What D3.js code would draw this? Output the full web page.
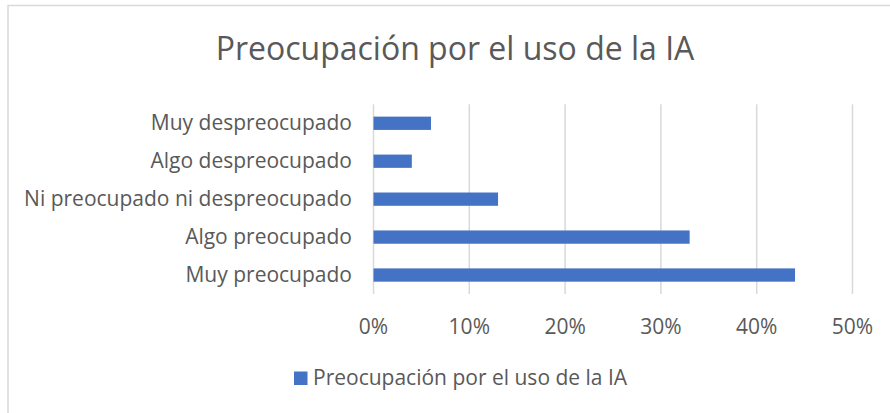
<!DOCTYPE html>
<html><head><meta charset="utf-8">
<script src="https://cdn.jsdelivr.net/npm/d3@7"></script>
<style>body{margin:0;background:#fff;} text{font-family:"Open Sans",sans-serif;}</style>
</head><body><svg id="c" width="890" height="413"></svg>
<script>
const title = "Preocupación por el uso de la IA";
const seriesName = "Preocupación por el uso de la IA";
const categories = ["Muy despreocupado","Algo despreocupado","Ni preocupado ni despreocupado","Algo preocupado","Muy preocupado"];
const values = [0.06, 0.04, 0.13, 0.33, 0.44];
const ticks = [0, 0.1, 0.2, 0.3, 0.4, 0.5];

(function(){
const svg = d3.select("#c");
const W = 890, H = 413;
svg.append("rect").attr("x",0).attr("y",0).attr("width",W).attr("height",H).attr("fill","#fff");
svg.append("rect").attr("x",8).attr("y",5.5).attr("width",900).attr("height",420)
  .attr("fill","#fff").attr("stroke","#d9d9d9").attr("stroke-width",1.5);

const pl = 373, pr = 852, pt = 104.3, pb = 294;
const x = d3.scaleLinear().domain([0,0.5]).range([pl,pr]);
const y = d3.scaleBand().domain(categories).range([pt,pb]).paddingInner(0.65).paddingOuter(0.325);

svg.append("text").attr("x",455).attr("y",60).attr("text-anchor","middle")
  .attr("font-size",32).attr("fill","#595959").text(title);

const gx = svg.append("g").attr("transform",`translate(0,${pb})`)
  .call(d3.axisBottom(x).tickValues(ticks).tickFormat(d3.format(".0%")).tickSize(-(pb-pt)).tickPadding(25));
gx.select(".domain").remove();
gx.selectAll(".tick line").attr("stroke","#d9d9d9").attr("stroke-width",1.5);
gx.selectAll(".tick text").attr("font-size",21).attr("fill","#595959").attr("font-family","Open Sans");

const gy = svg.append("g").attr("transform",`translate(${pl},0)`)
  .call(d3.axisLeft(y).tickSize(0).tickPadding(21));
gy.select(".domain").remove();
gy.selectAll(".tick text").attr("font-size",21).attr("fill","#595959").attr("font-family","Open Sans");

svg.append("g").selectAll("rect").data(values).join("rect")
  .attr("x",x(0)+0.5).attr("y",(d,i)=>y(categories[i]))
  .attr("width",d=>x(d)-x(0)).attr("height",y.bandwidth())
  .attr("fill","#4472c4");

const lg = svg.append("g");
lg.append("rect").attr("x",294).attr("y",371.5).attr("width",13.5).attr("height",13.5).attr("fill","#4472c4");
lg.append("text").attr("x",313).attr("y",378).attr("dy","0.35em").attr("font-size",21)
  .attr("fill","#595959").text(seriesName);
})();
</script></body></html>
